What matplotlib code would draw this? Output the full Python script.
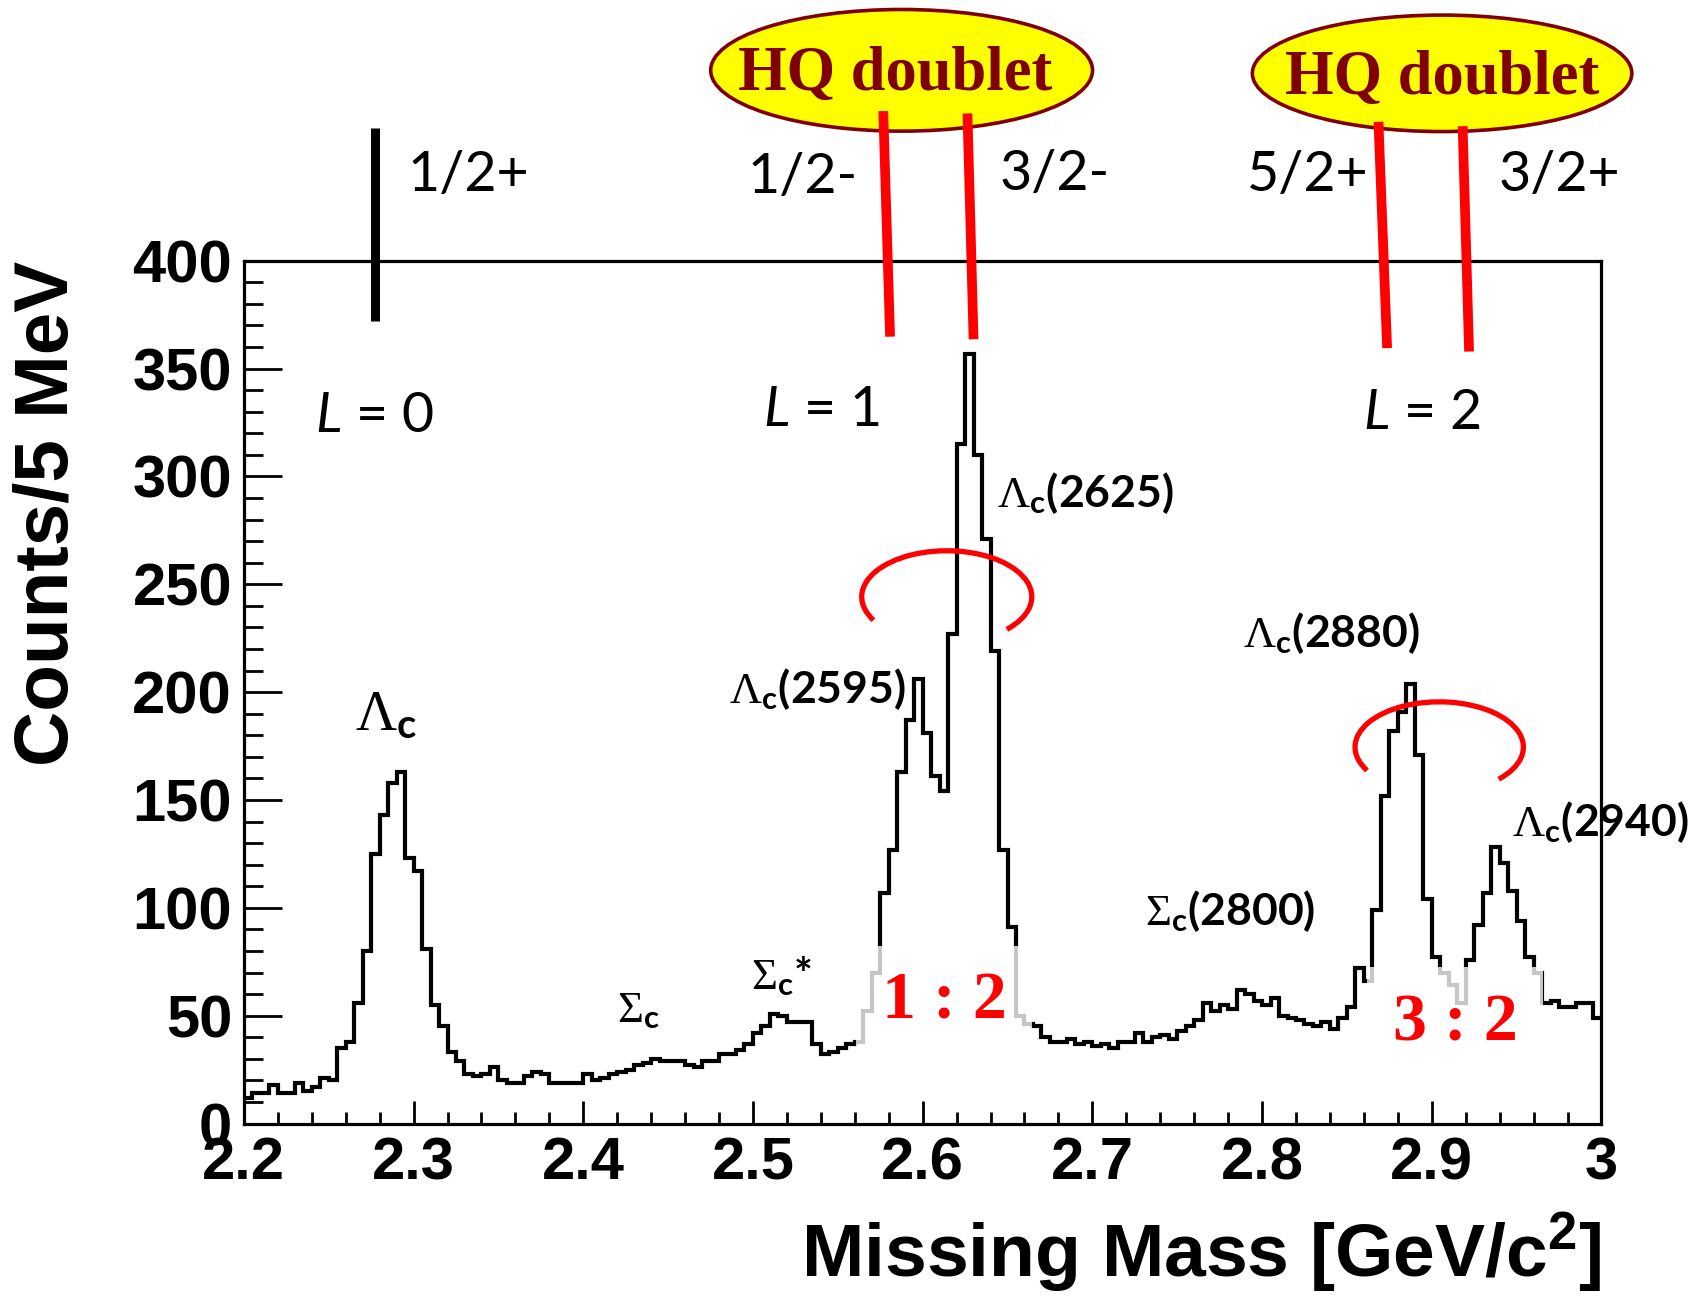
import numpy as np
import matplotlib
matplotlib.use('Agg')
import matplotlib.pyplot as plt
from matplotlib.patches import Ellipse, Arc
from matplotlib.ticker import MultipleLocator, FixedLocator

plt.rcParams['mathtext.fontset'] = 'custom'
plt.rcParams['mathtext.rm'] = 'Liberation Serif'
plt.rcParams['mathtext.it'] = 'Lato:italic'
plt.rcParams['mathtext.bf'] = 'Lato:bold'
plt.rcParams['mathtext.sf'] = 'Liberation Sans:bold'

# ---------------- data ----------------
bin_low = 2.2
bin_width = 0.005
counts = [
    12, 14, 14, 18, 14, 14, 19, 15, 17, 21,
    20, 35, 38, 56, 80, 125, 143, 158, 163, 123,
    117, 81, 55, 45, 33, 29, 23, 22, 23, 26,
    20, 19, 19, 22, 24, 23, 19, 19, 19, 19,
    23, 20, 21, 23, 24, 25, 27, 28, 30, 29,
    29, 29, 27, 26, 29, 29, 32, 32, 34, 37,
    42, 45, 51, 50, 47, 47, 47, 37, 32, 33,
    35, 37, 38, 52, 70, 107, 127, 163, 187, 206,
    181, 161, 154, 227, 315, 357, 310, 271, 219, 127,
    91, 50, 46, 45, 40, 38, 38, 39, 37, 38,
    36, 37, 35, 38, 38, 42, 38, 40, 41, 39,
    43, 45, 48, 56, 52, 55, 53, 62, 60, 57,
    55, 58, 50, 49, 48, 46, 45, 47, 44, 49,
    54, 72, 66, 99, 152, 182, 191, 204, 171, 104,
    77, 70, 64, 56, 76, 92, 107, 128, 121, 108,
    94, 77, 70, 56, 57, 54, 54, 56, 56, 49,
]
edges = bin_low + bin_width * np.arange(len(counts) + 1)

x_ticks = [2.2, 2.3, 2.4, 2.5, 2.6, 2.7, 2.8, 2.9, 3.0]
x_tick_labels = ['2.2', '2.3', '2.4', '2.5', '2.6', '2.7', '2.8', '2.9', '3']
y_ticks = [0, 50, 100, 150, 200, 250, 300, 350, 400]
y_tick_labels = ['0', '50', '100', '150', '200', '250', '300', '350', '400']

x_label = 'Missing Mass [GeV/c$^{\\mathsf{2}}$]'
y_label = 'Counts/5 MeV'

# ---------------- figure ----------------
fig = plt.figure(figsize=(16.9, 12.96), dpi=100)
ax = fig.add_axes([0.1443, 0.1331, 0.8033, 0.6657])

ax.stairs(counts, edges, baseline=None, color='black', linewidth=3.0, zorder=2)

ax.set_xlim(2.2, 3.0)
ax.set_ylim(0, 400)

ax.xaxis.set_major_locator(FixedLocator(x_ticks))
ax.xaxis.set_minor_locator(MultipleLocator(0.02))
ax.yaxis.set_major_locator(FixedLocator(y_ticks))
ax.yaxis.set_minor_locator(MultipleLocator(10))
ax.set_xticklabels(x_tick_labels)
ax.set_yticklabels(y_tick_labels)

for sp in ax.spines.values():
    sp.set_linewidth(2.3)

ax.tick_params(axis='x', which='major', direction='in', length=16.5, width=2.0,
               pad=9, labelsize=43, top=False)
ax.tick_params(axis='x', which='minor', direction='in', length=8.6, width=2.0, top=False)
ax.tick_params(axis='y', which='major', direction='in', length=27, width=2.0,
               pad=8.5, labelsize=43, right=False)
ax.tick_params(axis='y', which='minor', direction='in', length=13.7, width=2.0, right=False)
for lab in ax.get_xticklabels() + ax.get_yticklabels():
    lab.set_fontfamily('Liberation Sans')
    lab.set_fontweight('bold')

fig.text(0.9476, 0.0147, x_label, ha='right', va='baseline', fontsize=54,
         fontweight='bold', family='Liberation Sans')
fig.text(0.0284, 0.7990, y_label, ha='center', va='top', rotation=90, fontsize=55,
         fontweight='bold', family='Liberation Sans')

# ---------------- annotations above the frame ----------------
ax.plot([2.2772, 2.2772], [461.4, 372.2], color='black', lw=6.5,
        solid_capstyle='butt', clip_on=False, zorder=6)

for cx, cy, w, h in [(2.5876, 488.3, 0.225, 56.4), (2.9061, 486.9, 0.2236, 54.0)]:
    ax.add_patch(Ellipse((cx, cy), w, h, facecolor='#ffff00', edgecolor='#800000',
                         linewidth=2.6, clip_on=False, zorder=5))
ax.text(2.5837, 479.1, 'HQ doublet', ha='center', va='baseline', fontsize=45,
        fontweight='bold', family='Liberation Serif', color='#800000', zorder=7, clip_on=False)
ax.text(2.9064, 477.5, 'HQ doublet', ha='center', va='baseline', fontsize=45,
        fontweight='bold', family='Liberation Serif', color='#800000', zorder=7, clip_on=False)

for (x1, y1, x2, y2) in [(2.5768, 469.4, 2.5808, 364.8), (2.6264, 468.3, 2.6300, 363.6),
                         (2.8686, 464.4, 2.8737, 359.5), (2.9182, 462.4, 2.9220, 357.9)]:
    ax.plot([x1, x2], [y1, y2], color='#ff0000', lw=7, solid_capstyle='butt',
            clip_on=False, zorder=6)

spin_kw = dict(ha='left', va='baseline', fontsize=40, family='Lato', color='black')
ax.text(2.2963, 432.5, '1/2+', **spin_kw)
ax.text(2.4965, 431.4, '1/2-', **spin_kw)
ax.text(2.6455, 432.8, '3/2-', **spin_kw)
ax.text(2.7912, 432.4, '5/2+', **spin_kw)
ax.text(2.9391, 432.4, '3/2+', **spin_kw)

ax.text(2.2417, 320.7, '$L$ = 0', **spin_kw)
ax.text(2.5059, 323.4, '$L$ = 1', **spin_kw)
ax.text(2.8597, 322.0, '$L$ = 2', **spin_kw)

pk = dict(ha='left', va='baseline', fontsize=32, family='Lato', fontweight='bold', color='black')
ax.text(2.2656, 182.4, r'$\Lambda_{\mathbf{c}}$', ha='left', va='baseline', fontsize=41,
        family='Lato', fontweight='bold')
ax.text(2.6438, 286.0, r'$\Lambda_{\mathbf{c}}$(2625)', **pk)
ax.text(2.4857, 195.1, r'$\Lambda_{\mathbf{c}}$(2595)', **pk)
ax.text(2.7886, 221.0, r'$\Lambda_{\mathbf{c}}$(2880)', **pk)
ax.text(2.9474, 133.1, r'$\Lambda_{\mathbf{c}}$(2940)', **pk)
ax.text(2.7308, 92.1, r'$\Sigma_{\mathbf{c}}$(2800)', **pk)
ax.text(2.4196, 47.2, r'$\Sigma_{\mathbf{c}}$', **pk)
ax.text(2.4990, 62.2, r'$\Sigma_{\mathbf{c}}$*', **pk)


def arc_theta(t_deg, w, h):
    """Convert a parametric ellipse angle into the angle Arc expects."""
    t = np.deg2rad(t_deg)
    return np.rad2deg(np.arctan2(np.sin(t) * h / w, np.cos(t)))


for cx, cy, w, h, t1, t2 in [(2.6142, 244.2, 0.1002, 42.7, -45, 210.5),
                             (2.9044, 174.5, 0.0992, 42.0, -45, 211)]:
    ax.add_patch(Arc((cx, cy), w, h, theta1=arc_theta(t1, w, h), theta2=arc_theta(t2, w, h),
                     color='#ff0000', lw=3.8, zorder=4))

rk = dict(ha='center', va='baseline', fontsize=49, color='#ff0000', fontweight='bold',
          family='Liberation Serif', zorder=4,
          bbox=dict(boxstyle='square,pad=0.38', facecolor='white', edgecolor='none', alpha=0.78))
ax.text(2.6126, 48.7, '1 : 2', **rk)
ax.text(2.9137, 38.7, '3 : 2', **rk)

fig.savefig('out.png', dpi=100)
